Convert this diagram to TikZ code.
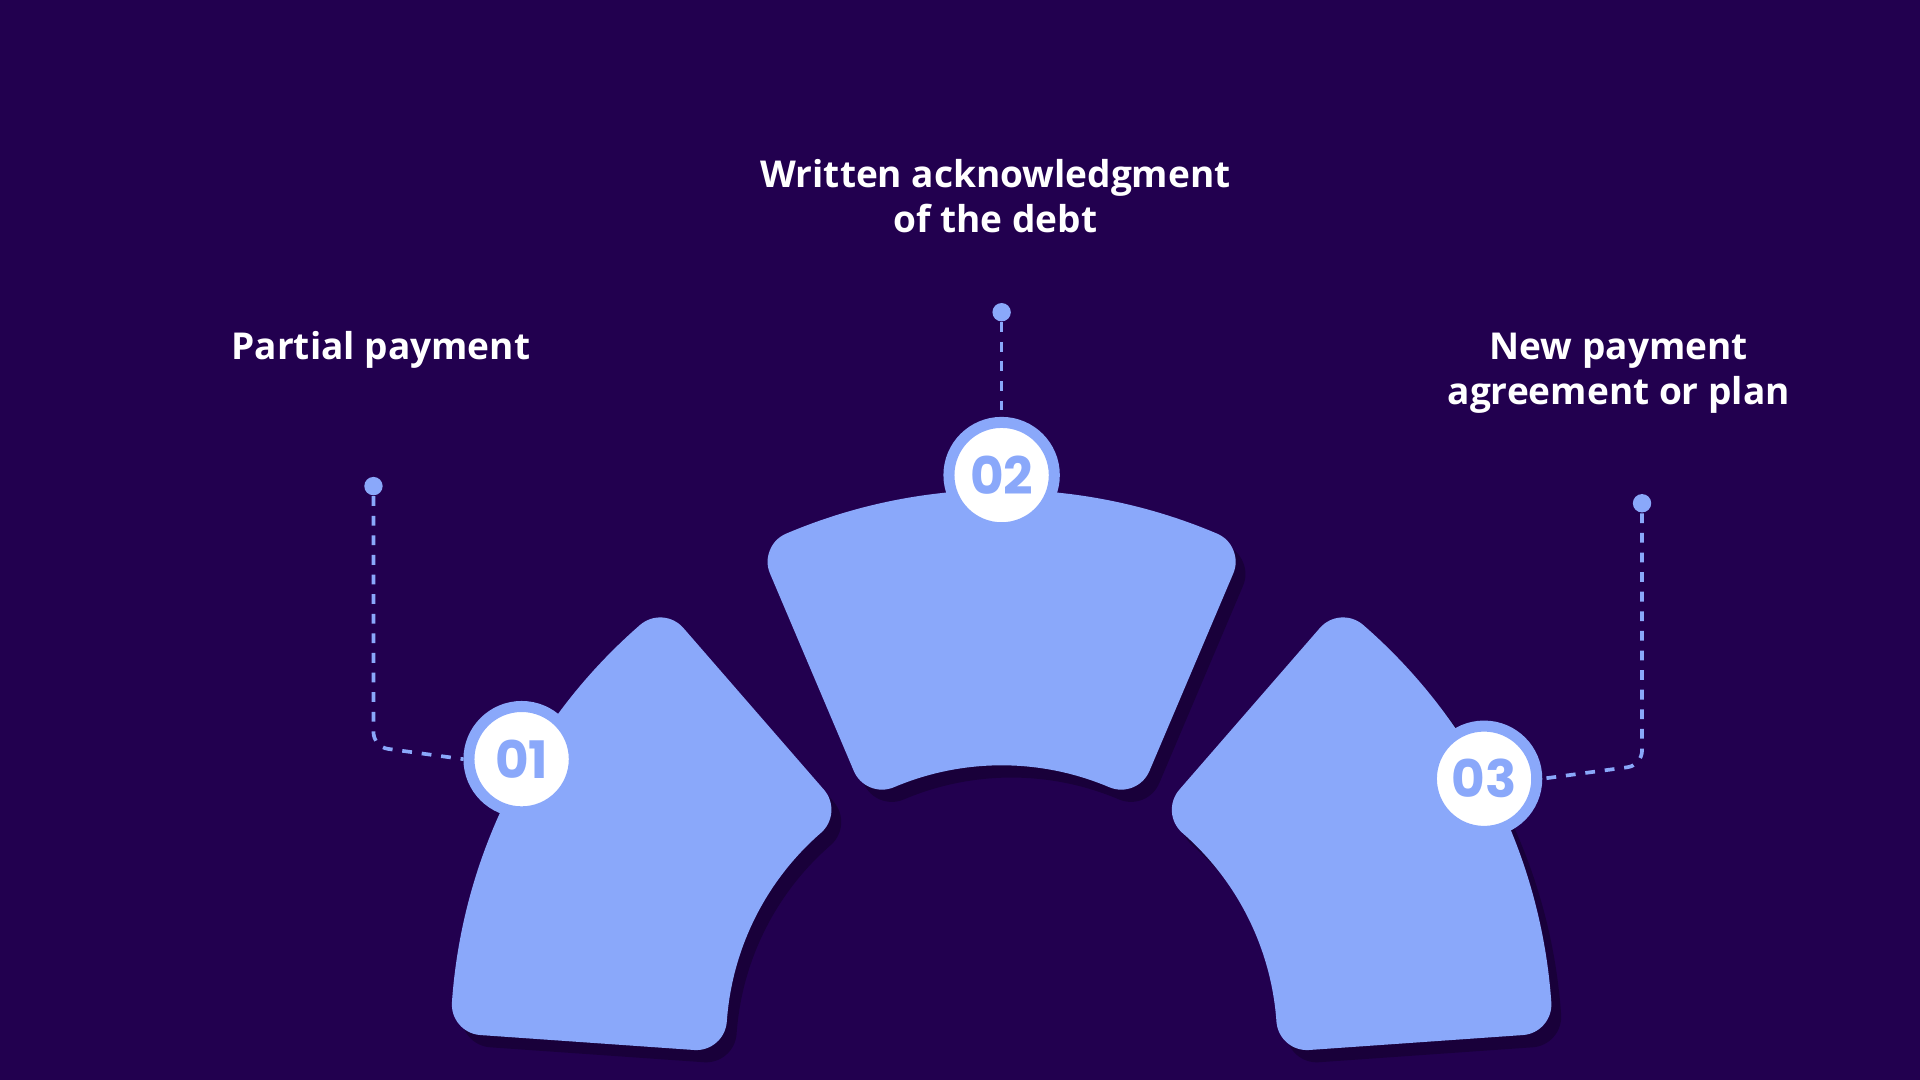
\documentclass[tikz,border=0pt]{standalone}
\usepackage{fontspec}
\setmainfont{Open Sans}
\newfontfamily\numfont{Poppins}
\usetikzlibrary{positioning}
\definecolor{bgpurple}{HTML}{22004F}
\definecolor{shadepurple}{HTML}{19003A}
\definecolor{segblue}{HTML}{8AA8FA}

\begin{document}
\begin{tikzpicture}[
    x=0.01cm, y=0.01cm,
    segment/.style={fill=segblue, draw=segblue, line width=0.5cm, line join=round},
    segshade/.style={fill=shadepurple, draw=shadepurple, line width=0.5cm, line join=round},
    stepcircle/.style={circle, fill=white, draw=segblue, line width=0.09cm, minimum size=0.86cm, inner sep=0pt, font=\numfont\bfseries\fontsize{12}{12}\selectfont, text=segblue},
    stepdot/.style={circle, fill=segblue, inner sep=0pt, minimum size=0.15cm},
    steplabel/.style={font=\bfseries\fontsize{8.6}{10.4}\selectfont, text=white, align=center},
    leader/.style={draw=segblue, line width=0.03cm, dash pattern=on 0.08cm off 0.08cm, rounded corners=0.12cm}
]
\useasboundingbox[fill=bgpurple] (0,0) rectangle (1568,882);

% === Segments (shadow first) ===
\foreach \a/\b in {131/176, 67/113, 4/49} {
  \begin{scope}[shift={(826,22)}]
    \path[segshade] (\a:250) -- (\a:425) arc[start angle=\a, end angle=\b, radius=425]
      -- (\b:250) arc[start angle=\b, end angle=\a, radius=250] -- cycle;
  \end{scope}
  \begin{scope}[shift={(818,32)}]
    \path[segment] (\a:250) -- (\a:425) arc[start angle=\a, end angle=\b, radius=425]
      -- (\b:250) arc[start angle=\b, end angle=\a, radius=250] -- cycle;
  \end{scope}
}

% === Step circles ===
\node[stepcircle] (c1) at (426,262) {01};
\node[stepcircle] (c2) at (818,494) {02};
\node[stepcircle] (c3) at (1212,246) {03};

% === Leader dots and lines ===
\node[stepdot] (d1) at (305,485) {};
\node[stepdot] (d2) at (818,627) {};
\node[stepdot] (d3) at (1341,471) {};
\coordinate (k1) at (305,272);
\coordinate (k3) at (1341,257);
\draw[leader] (d1) -- (k1) -- (c1.west);
\draw[leader] (d2) -- (c2.north);
\draw[leader] (d3) -- (k3) -- (c3.east);

% === Labels ===
\node[steplabel] (l1) at (311,596) {Partial payment};
\node[steplabel] (l2) at (813,722) {Written acknowledgment\\of the debt};
\node[steplabel] (l3) at (1322,577) {New payment\\agreement or plan};
\end{tikzpicture}
\end{document}
